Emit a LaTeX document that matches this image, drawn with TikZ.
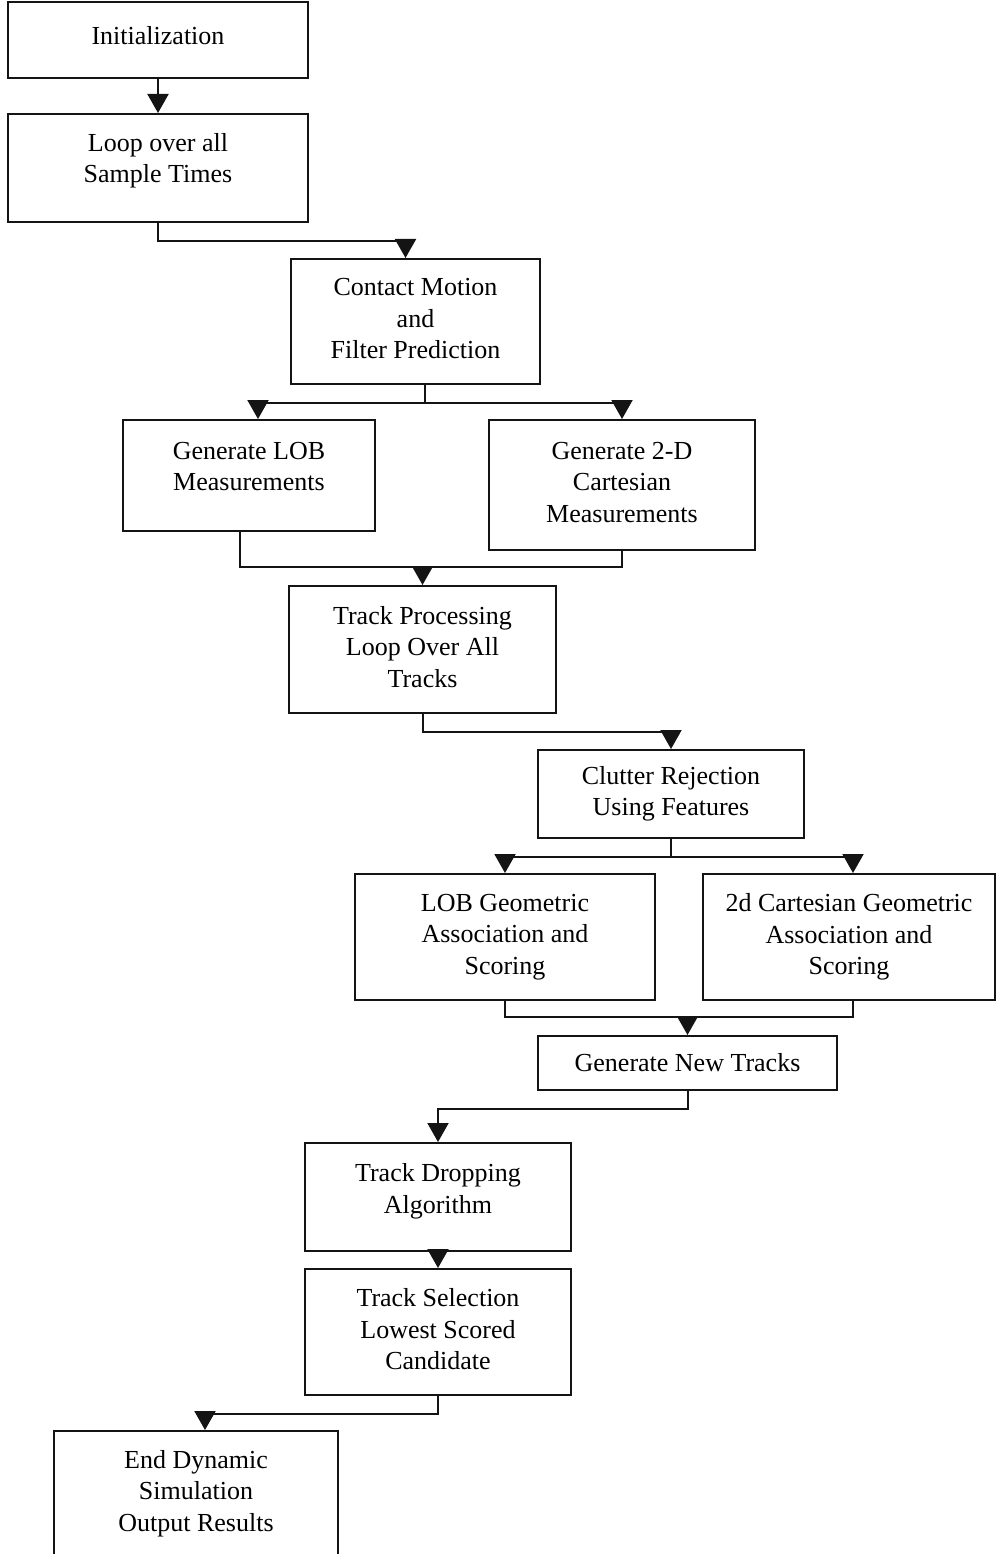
\documentclass[tikz,border=0pt]{standalone}
\usepackage{fontspec}
\setmainfont{Liberation Serif}
\usetikzlibrary{arrows.meta,positioning,calc}
\definecolor{fcInk}{RGB}{ 20, 20, 20}

\begin{document}
\begin{tikzpicture}[x=1pt,y=-1pt,
  box/.style={draw=fcInk,line width=2pt,align=center,inner sep=0pt,
              font=\fontsize{26}{31.5}\selectfont},
  lift/.style={text depth=#1},
  link/.style={draw=fcInk,line width=2pt},
  flow/.style={link,-{Triangle[width=21pt,length=19pt]}}]
\path[use as bounding box] (0,0) rectangle (996,1554);
\clip (0,0) rectangle (996,1554);
% Boxes, top to bottom (lift = extra depth that raises the text)
\node[box,lift=10pt,minimum width=300,minimum height=76]  (init)      at (158,40)      {Initialization};
\node[box,lift=20pt,minimum width=300,minimum height=108] (loop)      at (158,168)     {Loop over all\\Sample Times};
\node[box,lift=6pt,minimum width=249,minimum height=125]  (contact)   at (415.5,321.5) {Contact Motion\\and\\Filter Prediction};
\node[box,lift=18pt,minimum width=252,minimum height=111] (lobgen)    at (249,475.5)   {Generate LOB\\Measurements};
\node[box,lift=6pt,minimum width=266,minimum height=130]  (cartgen)   at (622,485)     {Generate 2-D\\Cartesian\\Measurements};
\node[box,lift=6pt,minimum width=267,minimum height=127]  (trackproc) at (422.5,649.5) {Track Processing\\Loop Over All\\Tracks};
\node[box,minimum width=266,minimum height=88]            (clutter)   at (671,794)     {Clutter Rejection\\Using Features};
\node[box,minimum width=300,minimum height=126]           (lobgeo)    at (505,937)     {LOB Geometric\\Association and\\Scoring};
\node[box,minimum width=292,minimum height=126]           (cartgeo)   at (849,937)     {2d Cartesian Geometric\\Association and\\Scoring};
\node[box,minimum width=299,minimum height=54]            (newtracks) at (687.5,1063)  {Generate New Tracks};
\node[box,lift=17pt,minimum width=266,minimum height=108] (dropping)  at (438,1197)    {Track Dropping\\Algorithm};
\node[box,lift=6pt,minimum width=266,minimum height=126]  (selection) at (438,1332)    {Track Selection\\Lowest Scored\\Candidate};
\node[box,minimum width=284,minimum height=125]           (endsim)    at (196,1493.5)  {End Dynamic\\Simulation\\Output Results};
% Start of run
\draw[flow] (init.south) -- (loop.north);
\draw[flow] (loop.south) -- ++(0,18) -| ([xshift=-10]contact.north);
% Split to the two measurement generators
\draw[link] ([xshift=9]contact.south) -- ++(0,18) coordinate (s1);
\draw[flow] (s1) -| ([xshift=9]lobgen.north);
\draw[flow] (s1) -| (cartgen.north);
% Merge into track processing
\coordinate (j1) at ($(trackproc.north)+(0,-18)$);
\draw[link] ([xshift=-9]lobgen.south) |- (j1) -| (cartgen.south);
\draw[flow] (j1) -- (trackproc.north);
\draw[flow] (trackproc.south) -- ++(0,18) -| (clutter.north);
% Split to the two association branches
\draw[link] (clutter.south) -- ++(0,18) coordinate (s2);
\draw[flow] (s2) -| (lobgeo.north);
\draw[flow] (s2) -| ([xshift=4]cartgeo.north);
% Merge into new tracks
\coordinate (j2) at ($(newtracks.north)+(0,-18)$);
\draw[link] (lobgeo.south) |- (j2) -| ([xshift=4]cartgeo.south);
\draw[flow] (j2) -- (newtracks.north);
% Tail of the loop
\draw[flow] (newtracks.south) -- ++(0,18) -| (dropping.north);
\draw[flow] (dropping.south) -- (selection.north);
\draw[flow] (selection.south) -- ++(0,18) -| ([xshift=9]endsim.north);
\end{tikzpicture}
\end{document}
